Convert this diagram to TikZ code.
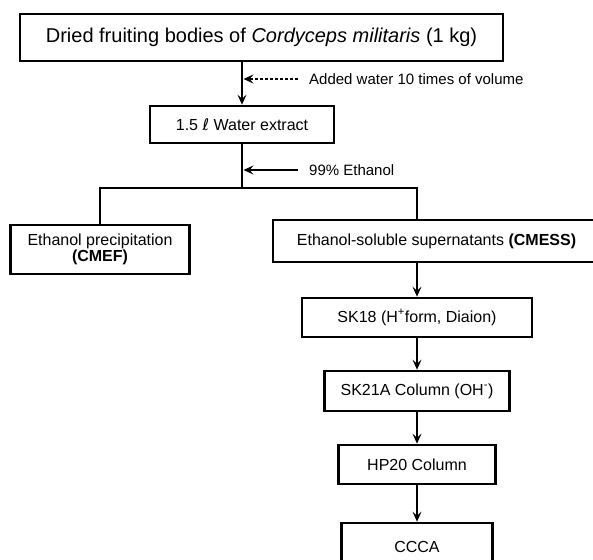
\documentclass[tikz,border=0pt]{standalone}
\usepackage{fontspec}
\setmainfont{Liberation Sans}
\newfontfamily\symbolfont{DejaVu Sans}
\usetikzlibrary{positioning, arrows.meta}

\begin{document}
\begin{tikzpicture}
    [
        x=1pt, y=1pt, node distance=73.5pt, on grid,
        box_node/.style={rectangle, draw=black, line width=2.7pt, inner sep=0pt, font=\fontsize{16}{16}\selectfont},
        side_label/.style={anchor=west, inner sep=0pt, font=\fontsize{15}{15}\selectfont},
        flow_arrow/.style={-{Stealth[length=10pt, width=9pt, inset=4pt]}, line width=1.4pt},
        flow_line/.style={line width=1.4pt},
    ]
        \useasboundingbox (0,0) rectangle (593,-559);
        \node[box_node, minimum width=483pt, minimum height=47pt, font=\fontsize{20}{20}\selectfont] (dried) at (261.5,-37.5) {Dried fruiting bodies of \textit{Cordyceps militaris} (1 kg)} ;
        \node[box_node, minimum width=184pt, minimum height=37pt] (water) at (242,-124.5) {1.5 {\symbolfont ℓ} Water extract} ;
        \node[box_node, minimum width=179pt, minimum height=49pt, align=center] (precip) at (100,-249.5) {Ethanol precipitation\\\textbf{(CMEF)}} ;
        \node[box_node, minimum width=327pt, minimum height=42pt] (cmess) at (436.5,-241) {Ethanol-soluble supernatants \textbf{(CMESS)}} ;
        \node[box_node, minimum width=230pt, minimum height=39pt] (sk18) at (417,-317.5) {SK18 (H\textsuperscript{+}form, Diaion)} ;
        \node[box_node, minimum width=185pt, minimum height=40pt] (sk21a) [below = of sk18] {SK21A Column (OH\textsuperscript{-})} ;
        \node[box_node, minimum width=157pt, minimum height=39pt] (hp20) [below = of sk21a] {HP20 Column} ;
        \node[box_node, minimum width=151pt, minimum height=48pt] (ccca) [below = 82.5pt of hp20] {CCCA} ;
        \node[side_label] (water_note) at (309,-79) {Added water 10 times of volume} ;
        \node[side_label] (ethanol_note) at (309,-170) {99\% Ethanol} ;
        \coordinate (water_in) at (243.5,-79) ;
        \coordinate (ethanol_in) at (243.5,-170) ;
        \coordinate (split) at (242,-188) ;
        \coordinate (branch) at (417,-188) ;
        \draw[flow_arrow] (dried.south -| water) -- (water) ;
        \draw[flow_arrow, dash pattern=on 3.5pt off 1.5pt] ([xshift=-11pt]water_note.west) -- (water_in) ;
        \draw[flow_line] (water) -- (split) ;
        \draw[flow_arrow] ([xshift=-11pt]ethanol_note.west) -- (ethanol_in) ;
        \draw[flow_line] (precip.north) |- (split) -- (branch) -- (branch |- cmess.north) ;
        \draw[flow_arrow] (branch |- cmess.south) -- (sk18) ;
        \draw[flow_arrow] (sk18) -- (sk21a) ;
        \draw[flow_arrow] (sk21a) -- (hp20) ;
        \draw[flow_arrow] (hp20) -- (ccca) ;
    \end{tikzpicture}
\end{document}
